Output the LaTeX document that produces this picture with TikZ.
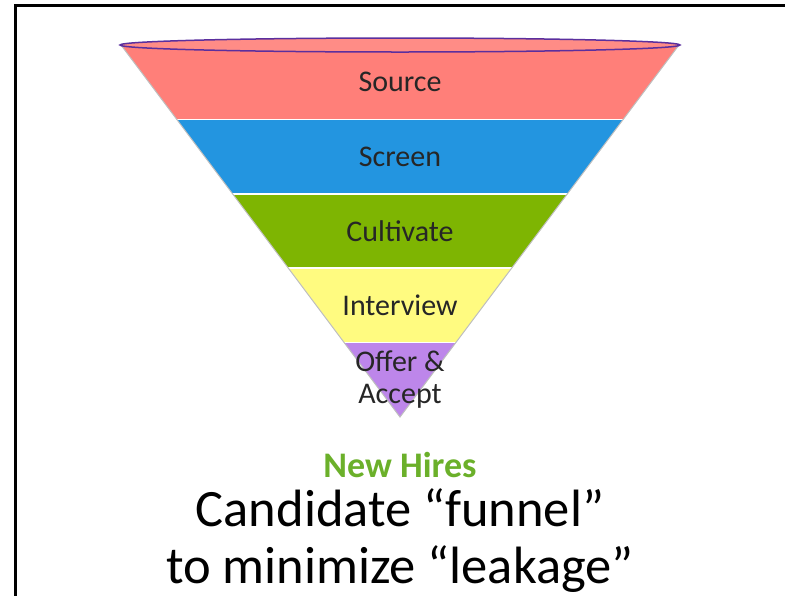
\documentclass[tikz,border=0pt]{standalone}
\usepackage{fontspec}
\setmainfont{Carlito}
\usepackage{tikz}
\definecolor{source}{HTML}{FF7F79}
\definecolor{sourcetop}{HTML}{FF8C86}
\definecolor{screen}{HTML}{2395E0}
\definecolor{cultivate}{HTML}{7EB502}
\definecolor{interview}{HTML}{FFFB80}
\definecolor{offer}{HTML}{BD86EA}
\definecolor{rim}{HTML}{5B2F9E}
\definecolor{hires}{HTML}{6BB02A}
\definecolor{labeltext}{HTML}{262626}
\tikzset{
  stage/.style = {text = labeltext, font = \fontsize{30}{32}\selectfont, align = center},
  caption/.style = {font = \fontsize{52.5}{57}\selectfont, align = center},
}

\begin{document}
\begin{tikzpicture}[x = 1pt, y = -1pt]
\useasboundingbox (0,0) rectangle (785,595);
\begin{scope}
\clip (0,0) rectangle (785,595);
\draw[line width = 3pt] (15,5) rectangle (820,640);
\end{scope}
\draw[fill = source, draw = none] (121,45) -- (679,45) -- (623.2,119.4) -- (176.8,119.4) -- cycle;
\draw[fill = screen, draw = none] (176.8,119.4) -- (623.2,119.4) -- (567.4,193.8) -- (232.6,193.8) -- cycle;
\draw[fill = cultivate, draw = none] (232.6,193.8) -- (567.4,193.8) -- (511.6,268.2) -- (288.4,268.2) -- cycle;
\draw[fill = interview, draw = none] (288.4,268.2) -- (511.6,268.2) -- (455.8,342.6) -- (344.2,342.6) -- cycle;
\draw[fill = offer, draw = none] (344.2,342.6) -- (455.8,342.6) -- (400,417) -- cycle;
\draw[white, line width = 1.5pt] (176.8,119.4) -- (623.2,119.4);
\draw[white, line width = 1.5pt] (232.6,193.8) -- (567.4,193.8);
\draw[white, line width = 1.5pt] (288.4,268.2) -- (511.6,268.2);
\draw[white, line width = 1.5pt] (344.2,342.6) -- (455.8,342.6);
\draw[black!25, line width = 1pt] (121,45) -- (400,417) -- (679,45);
\draw[fill = sourcetop, draw = rim, line width = 1.5pt] (400,45) ellipse (280 and 7);
\node[stage] (source) at (400,82) {Source};
\node[stage] (screen) at (400,157) {Screen};
\node[stage] (cultivate) at (400,231) {Cultivate};
\node[stage] (interview) at (400,305) {Interview};
\node[stage] (offer) at (400,380) {Offer \&\\Accept};
\node[text = hires, font = \bfseries\fontsize{36}{40}\selectfont] (hires) at (400,465) {New Hires};
\node[caption] (funnel) at (400,541) {Candidate “funnel”\\to minimize “leakage”};
\end{tikzpicture}
\end{document}
